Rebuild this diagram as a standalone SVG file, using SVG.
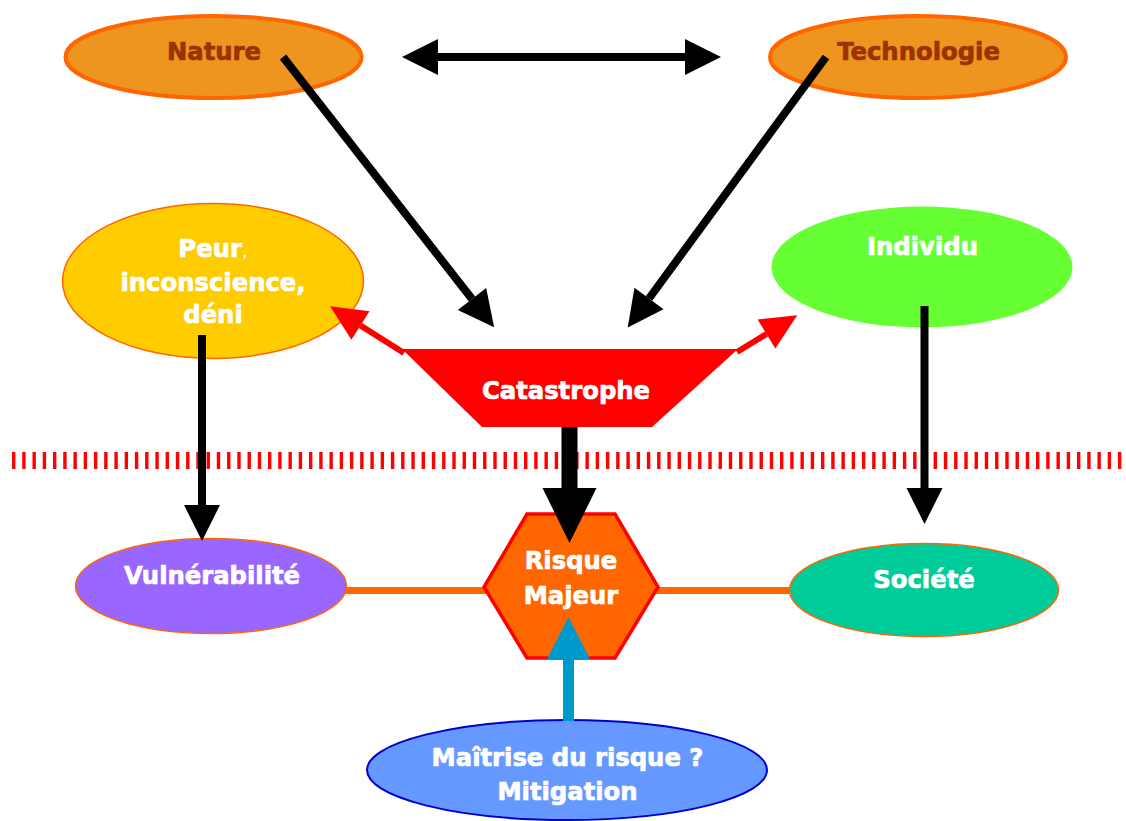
<svg xmlns="http://www.w3.org/2000/svg" width="1126" height="821" viewBox="0 0 1126 821">
<style>
text{font-family:"DejaVu Sans","Liberation Sans",Arial,sans-serif;font-weight:bold;font-size:24.3px;text-anchor:middle;stroke-width:0.7px;stroke-linejoin:round}
.w{fill:#FFFFFF;stroke:#FFFFFF}
.br{fill:#993300;stroke:#993300}
.thin{font-weight:normal;font-size:18px;stroke-width:0}
.k{stroke:#000000;stroke-width:8;fill:none}
</style>
<defs>
<marker id="hk" markerUnits="userSpaceOnUse" viewBox="0 -20 40 40" markerWidth="40" markerHeight="40" refX="0" refY="0" orient="auto-start-reverse" overflow="visible"><path d="M0,-18 L36,0 L0,18z" fill="#000000"/></marker>
<marker id="hr" markerUnits="userSpaceOnUse" viewBox="0 -20 40 40" markerWidth="40" markerHeight="40" refX="0" refY="0" orient="auto" overflow="visible"><path d="M0,-17 L36,0 L0,17z" fill="#FF0000"/></marker>
<marker id="hbig" markerUnits="userSpaceOnUse" viewBox="0 -30 60 60" markerWidth="60" markerHeight="60" refX="0" refY="0" orient="auto" overflow="visible"><path d="M0,-27 L55,0 L0,27z" fill="#000000"/></marker>
<marker id="hb" markerUnits="userSpaceOnUse" viewBox="0 -24 46 48" markerWidth="46" markerHeight="48" refX="0" refY="0" orient="auto" overflow="visible"><path d="M0,-22 L43,0 L0,22z" fill="#0099CC"/></marker>
</defs>
<rect width="1126" height="821" fill="#FFFFFF"/>

<g id="separator">
<line x1="12" y1="460.5" x2="1122" y2="460.5" stroke="#FF0000" stroke-width="17" stroke-dasharray="3.4 6.84"/>
</g>

<g id="links-under">
<line x1="343" y1="590.5" x2="486" y2="590.5" stroke="#FF6600" stroke-width="7"/>
<line x1="656" y1="590.5" x2="790" y2="590.5" stroke="#FF6600" stroke-width="7"/>
</g>

<g id="nature">
<ellipse cx="213.5" cy="57" rx="148" ry="41" fill="#EE951F" stroke="#FF6600" stroke-width="4"/>
<text x="214" y="60" class="br">Nature</text>
</g>
<g id="technologie">
<ellipse cx="918" cy="57" rx="148" ry="41" fill="#EE951F" stroke="#FF6600" stroke-width="4"/>
<text x="918.5" y="60" class="br">Technologie</text>
</g>
<g id="peur">
<ellipse cx="213" cy="281" rx="150.5" ry="77.5" fill="#FFCC00" stroke="#FF6600" stroke-width="1.5"/>
<text x="213" y="257" class="w">Peur<tspan class="thin">,</tspan></text>
<text x="213" y="291" class="w">inconscience,</text>
<text x="213" y="323" class="w">déni</text>
</g>
<g id="individu">
<ellipse cx="922" cy="267" rx="150.5" ry="60.5" fill="#66FF33"/>
<text x="922.5" y="255" class="w">Individu</text>
</g>
<g id="catastrophe">
<polygon points="402,349 738,349 652,427 482,427" fill="#FF0000"/>
<text x="566" y="399" class="w">Catastrophe</text>
</g>
<g id="vulnerabilite">
<ellipse cx="211" cy="586" rx="135.5" ry="47.5" fill="#9966FF" stroke="#FF6600" stroke-width="1.5"/>
<text x="212" y="584" class="w">Vulnérabilité</text>
</g>
<g id="societe">
<ellipse cx="924" cy="590" rx="134.5" ry="46.5" fill="#00CC99" stroke="#FF6600" stroke-width="1.5"/>
<text x="924" y="588" class="w">Société</text>
</g>
<g id="risque">
<polygon points="527,514 615,514 658,587 615,658 527,658 484,587" fill="#FF6600" stroke="#FF0000" stroke-width="3.5"/>
<text x="571" y="569" class="w">Risque</text>
<text x="571" y="604" class="w">Majeur</text>
</g>
<g id="mitigation">
<ellipse cx="567" cy="770" rx="200" ry="50" fill="#6699FF" stroke="#0000CC" stroke-width="2"/>
<text x="567.5" y="766" class="w">Maîtrise du risque ?</text>
<text x="567.5" y="800" class="w">Mitigation</text>
</g>

<g id="connectors">
<line x1="438" y1="57" x2="685" y2="57" class="k" marker-start="url(#hk)" marker-end="url(#hk)"/>
<line x1="283" y1="57" x2="472" y2="299" class="k" marker-end="url(#hk)"/>
<line x1="826" y1="57" x2="649" y2="298.5" class="k" marker-end="url(#hk)"/>
<line x1="202" y1="335" x2="202" y2="505" class="k" marker-end="url(#hk)"/>
<line x1="924.5" y1="306" x2="924.5" y2="488" class="k" marker-end="url(#hk)"/>
<line x1="404" y1="353" x2="360.5" y2="325.5" stroke="#FF0000" stroke-width="6" marker-end="url(#hr)"/>
<line x1="737" y1="352" x2="766.5" y2="334" stroke="#FF0000" stroke-width="6" marker-end="url(#hr)"/>
<line x1="569.5" y1="427" x2="569.5" y2="488" stroke="#000000" stroke-width="16" marker-end="url(#hbig)"/>
<line x1="568.5" y1="721" x2="568.5" y2="660" stroke="#0099CC" stroke-width="11" marker-end="url(#hb)"/>
</g>
</svg>
